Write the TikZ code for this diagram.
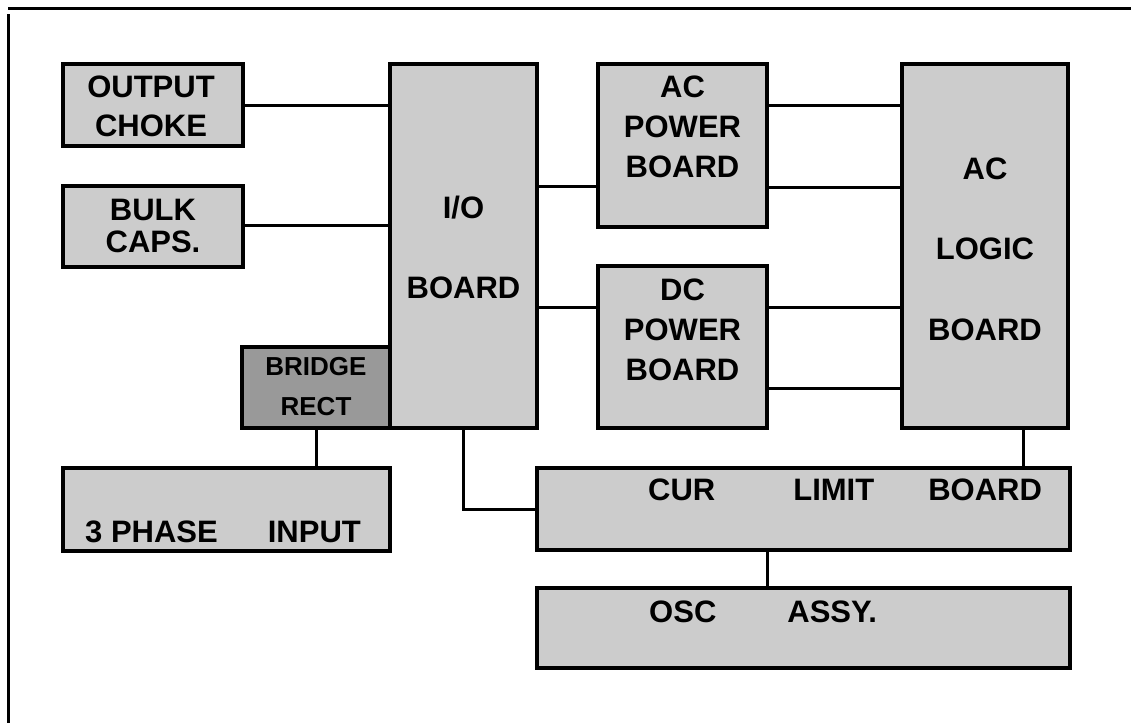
\documentclass[tikz,border=0pt]{standalone}
\usepackage{fontspec}
\setmainfont{Liberation Sans}
\usetikzlibrary{calc}
\definecolor{BoxGray}{HTML}{CCCCCC}
\definecolor{RectGray}{HTML}{999999}
\tikzset{
    block/.style={rectangle, draw=black, fill=BoxGray, line width=3.2pt, inner sep=0pt},
    darkblock/.style={block, fill=RectGray},
    tag/.style={font=\bfseries\fontsize{31}{40}\selectfont, align=center, inner sep=0pt, anchor=base},
    smalltag/.style={tag, font=\bfseries\fontsize{26}{40}\selectfont},
    wire/.style={line width=3pt, color=black},
}

\begin{document}
\begin{tikzpicture}[x=1pt, y=-1pt]
    \useasboundingbox (0,0) rectangle (1131,723);

    % Frame
    \draw[wire] (8,8) -- (1131,8);
    \draw[wire] (8,14) -- (8,723);

    % Boards
    \node[block, minimum width=180, minimum height=82] (choke) at (153,105) {};
    \node[block, minimum width=180, minimum height=81] (bulk) at (153,226.5) {};
    \node[block, minimum width=147, minimum height=364] (io) at (463.5,246) {};
    \node[darkblock, minimum width=148, minimum height=81] (bridge) at (316,387.5) {};
    \node[block, minimum width=327, minimum height=83] (phase) at (226.5,509.5) {};
    \node[block, minimum width=169, minimum height=163] (acpow) at (682.5,145.5) {};
    \node[block, minimum width=169, minimum height=162] (dcpow) at (682.5,347) {};
    \node[block, minimum width=166, minimum height=364] (logic) at (985,246) {};
    \node[block, minimum width=533, minimum height=82] (curlim) at (803.5,509) {};
    \node[block, minimum width=533, minimum height=80] (osc) at (803.5,628) {};

    % Labels (base = last line)
    \node[tag] (tchoke) at (151,136) {OUTPUT\\[-1pt]CHOKE};
    \node[tag] (tbulk) at (153,252) {BULK\\[-8pt]CAPS.};
    \node[tag] (tio) at (463.5,298) {I/O\\[40pt]BOARD};
    \node[smalltag] (tbridge) at (316,415) {BRIDGE\\RECT};
    \node[tag, anchor=base west] (tphase) at (85,542) {3 PHASE\hspace{50pt}INPUT};
    \node[tag] (tacpow) at (682.5,177) {AC\\POWER\\BOARD};
    \node[tag] (tdcpow) at (682.5,380) {DC\\POWER\\BOARD};
    \node[tag] (tlogic) at (985,340) {AC\\[40pt]LOGIC\\[41pt]BOARD};
    \node[tag, anchor=base west] (tcurlim) at (648,500) {CUR\hspace{78pt}LIMIT\hspace{54pt}BOARD};
    \node[tag, anchor=base west] (tosc) at (649,622) {OSC\hspace{71pt}ASSY.};

    % Connections
    \draw[wire] (choke.east) -- (choke.east -| io.west);
    \draw[wire] (bulk.east |- 0,225) -- (io.west |- 0,225);
    \draw[wire] (io.east |- 0,186) -- (acpow.west |- 0,186);
    \draw[wire] (io.east |- 0,307) -- (dcpow.west |- 0,307);
    \draw[wire] (acpow.east |- 0,105) -- (logic.west |- 0,105);
    \draw[wire] (acpow.east |- 0,187) -- (logic.west |- 0,187);
    \draw[wire] (dcpow.east |- 0,307) -- (logic.west |- 0,307);
    \draw[wire] (dcpow.east |- 0,388) -- (logic.west |- 0,388);
    \draw[wire] (logic.south -| 1023,0) -- (curlim.north -| 1023,0);
    \draw[wire] (io.south) |- (curlim.west);
    \draw[wire] (curlim.south -| 767,0) -- (osc.north -| 767,0);
    \draw[wire] (bridge.south) -- (bridge.south |- phase.north);
\end{tikzpicture}
\end{document}
